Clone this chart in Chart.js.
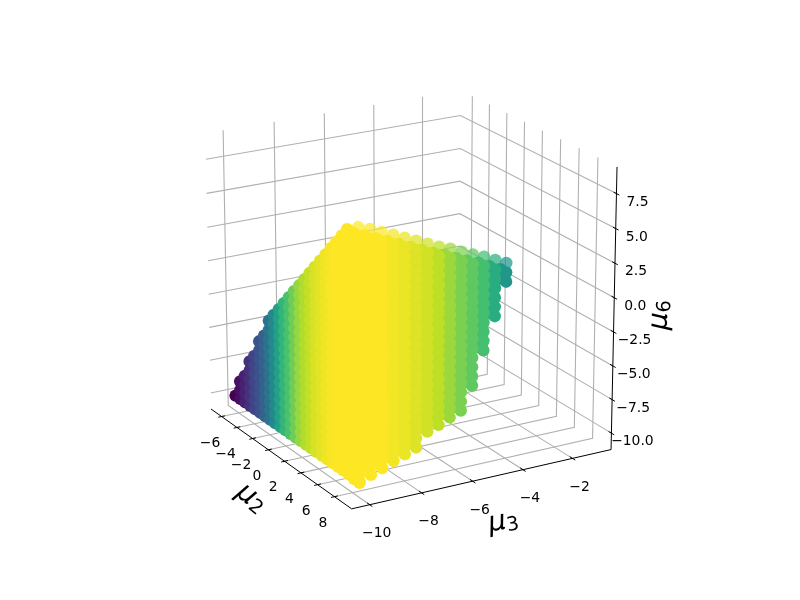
<!DOCTYPE html>
<html>
<head>
<meta charset="utf-8">
<style>
  html, body { margin: 0; background: #fff; }
  canvas { display: block; }
</style>
<script src="https://cdn.jsdelivr.net/npm/chart.js@4/dist/chart.umd.min.js"></script>
</head>
<body>
<canvas id="chart" width="800" height="600"></canvas>
<script>
// axis limits and ticks
const mu2Lim = [-7.4, 10];
const mu3Lim = [-10.69, -0.42];
const mu6Lim = [-11.23, 9.4];
const mu2Ticks = [-6, -4, -2, 0, 2, 4, 6, 8];
const mu3Ticks = [-10, -8, -6, -4, -2];
const mu6Ticks = [-10, -7.5, -5, -2.5, 0, 2.5, 5, 7.5];
const mu2TickLabels = ["−6", "−4", "−2", "0", "2", "4", "6", "8"];
const mu3TickLabels = ["−10", "−8", "−6", "−4", "−2"];
const mu6TickLabels = ["−10.0", "−7.5", "−5.0", "−2.5", "0.0", "2.5", "5.0", "7.5"];

// columns on the face that runs along mu2 (at the lowest mu3), counted up from the floor row
const mu2Cols = [-5.8, -5.17, -4.53, -3.9, -3.27, -2.63, -2.0, -1.37, -0.74, -0.1, 0.53, 1.16, 1.79, 2.43, 3.06, 3.69, 4.32, 4.96, 5.59, 6.22, 6.85, 7.49, 8.12, 8.75, 9.38];
const mu2ColRows = [1, 3, 4, 6, 7, 9, 10, 12, 13, 14, 15, 16, 17, 18, 19, 20, 21, 22, 23, 24, 25, 26, 27, 27, 27];
const mu2ColValue = [0, 0.04, 0.09, 0.14, 0.2, 0.25, 0.31, 0.38, 0.47, 0.57, 0.65, 0.71, 0.78, 0.84, 0.88, 0.91, 0.94, 0.96, 0.98, 0.99, 1, 1, 1, 1, 1];
const mu6Floor = -9.75;

// columns on the face that runs along mu3 (at the highest mu2), counted down from the top row
const mu3Cols = [-10.18, -9.745, -9.31, -8.875, -8.44, -8.005, -7.57, -7.135, -6.7, -6.265, -5.83, -5.395, -4.96, -4.525];
const mu3ColTop = [8.26, 7.98, 7.62, 7.28, 6.92, 6.56, 6.2, 5.84, 5.54, 5.18, 4.82, 4.52, 4.13, 3.76];
const mu3ColRows = [28, 27, 26, 25, 24, 23, 21, 20, 19, 18, 15, 11, 7, 3];
const mu3ColValue = [1, 1, 1, 0.985, 0.97, 0.95, 0.93, 0.9, 0.85, 0.8, 0.75, 0.7, 0.62, 0.52];

const mu6Step = 0.67;

const viridis = ["#440154", "#482475", "#414487", "#355f8d", "#2a788e", "#21918c", "#22a884", "#44bf70", "#7ad151", "#bddf26", "#fde725"];

// camera, same model as a matplotlib 3d axes
const elev = 20 * Math.PI / 180;
const azim = -30 * Math.PI / 180;
const camDist = 12;
const viewScale = 297;
const viewX = 408.2;
const viewY = 291.4;

function project(mu2, mu3, mu6) {
  const a = (mu2 - mu2Lim[0]) / (mu2Lim[1] - mu2Lim[0]) - 0.5;
  const b = (mu3 - mu3Lim[0]) / (mu3Lim[1] - mu3Lim[0]) - 0.5;
  const c = (mu6 - mu6Lim[0]) / (mu6Lim[1] - mu6Lim[0]) - 0.5;
  const se = Math.sin(elev), ce = Math.cos(elev), sa = Math.sin(azim), ca = Math.cos(azim);
  const u = -sa * a + ca * b;
  const v = -se * ca * a - se * sa * b + ce * c;
  const w = ce * ca * a + ce * sa * b + se * c;
  const d = 1 - w / camDist;
  return { x: viewX + viewScale * u / d, y: viewY - viewScale * v / d, depth: w };
}

function hexToRgb(hex) {
  return [1, 3, 5].map(i => parseInt(hex.slice(i, i + 2), 16));
}

function viridisColor(value, alpha) {
  const t = value * (viridis.length - 1);
  const i = Math.min(Math.floor(t), viridis.length - 2);
  const c0 = hexToRgb(viridis[i]), c1 = hexToRgb(viridis[i + 1]);
  const f = t - i;
  const rgb = c0.map((c, k) => Math.round(c + (c1[k] - c) * f));
  return `rgba(${rgb[0]}, ${rgb[1]}, ${rgb[2]}, ${alpha})`;
}

// the scatter: the two visible faces
let marks = [];
let rim = [];

mu2Cols.forEach((mu2, j) => {
  for (let k = 0; k < mu2ColRows[j]; k++) {
    const p = project(mu2, mu3Cols[0], mu6Floor + k * mu6Step);
    p.color = viridisColor(mu2ColValue[j], 1);
    marks.push(p);
  }
});

const lastMu2 = mu2Cols.length - 1;
mu3Cols.forEach((mu3, i) => {
  // front layer plus the layer right behind it, which closes the gaps
  [lastMu2, lastMu2 - 1].forEach((m, layer) => {
    for (let k = layer === 0 ? 0 : 1; k < mu3ColRows[i]; k++) {
      const p = project(mu2Cols[m], mu3, mu3ColTop[i] - k * mu6Step);
      if (k === 0) {
        p.color = viridisColor(mu3ColValue[i], 0.72);
        rim.push(p);
      } else {
        p.color = viridisColor(mu3ColValue[i], 1);
        marks.push(p);
      }
    }
  });
});

marks.sort((p, q) => p.depth - q.depth);

function lineDataset(points, color, width, order) {
  return {
    type: "scatter",
    showLine: true,
    data: points.map(p => ({ x: p.x, y: p.y })),
    borderColor: color,
    borderWidth: width,
    pointRadius: 0,
    order: order
  };
}

function markDataset(points, order) {
  return {
    type: "scatter",
    data: points.map(p => ({ x: p.x, y: p.y })),
    pointBackgroundColor: points.map(p => p.color),
    pointBorderWidth: 0,
    pointRadius: 6.2,
    order: order
  };
}

let datasets = [markDataset(marks, 0), markDataset(rim, 1)];

// grid lines run along the far walls
const gridColor = "#b0b0b0";
mu2Ticks.forEach(t => {
  datasets.push(lineDataset([project(t, mu3Lim[0], mu6Lim[0]), project(t, mu3Lim[1], mu6Lim[0]), project(t, mu3Lim[1], mu6Lim[1])], gridColor, 1.1, 3));
});
mu3Ticks.forEach(t => {
  datasets.push(lineDataset([project(mu2Lim[1], t, mu6Lim[0]), project(mu2Lim[0], t, mu6Lim[0]), project(mu2Lim[0], t, mu6Lim[1])], gridColor, 1.1, 3));
});
mu6Ticks.forEach(t => {
  datasets.push(lineDataset([project(mu2Lim[0], mu3Lim[0], t), project(mu2Lim[0], mu3Lim[1], t), project(mu2Lim[1], mu3Lim[1], t)], gridColor, 1.1, 3));
});

// axis lines and tick marks
const axisColor = "#000";
datasets.push(lineDataset([project(mu2Lim[0], mu3Lim[0], mu6Lim[0]), project(mu2Lim[1], mu3Lim[0], mu6Lim[0])], axisColor, 1, 2));
datasets.push(lineDataset([project(mu2Lim[1], mu3Lim[0], mu6Lim[0]), project(mu2Lim[1], mu3Lim[1], mu6Lim[0])], axisColor, 1, 2));
datasets.push(lineDataset([project(mu2Lim[1], mu3Lim[1], mu6Lim[0]), project(mu2Lim[1], mu3Lim[1], mu6Lim[1])], axisColor, 1, 2));
mu2Ticks.forEach(t => {
  datasets.push(lineDataset([project(t, mu3Lim[0] - 0.13, mu6Lim[0]), project(t, mu3Lim[0] + 0.13, mu6Lim[0])], axisColor, 1, 2));
});
mu3Ticks.forEach(t => {
  datasets.push(lineDataset([project(mu2Lim[1] - 0.3, t, mu6Lim[0]), project(mu2Lim[1] + 0.3, t, mu6Lim[0])], axisColor, 1, 2));
});
mu6Ticks.forEach(t => {
  datasets.push(lineDataset([project(mu2Lim[1] - 0.3, mu3Lim[1], t), project(mu2Lim[1] + 0.3, mu3Lim[1], t)], axisColor, 1, 2));
});

// tick labels and axis titles
const axisText = {
  id: "axisText",
  afterDraw(chart) {
    const ctx = chart.ctx;
    const sx = chart.scales.x, sy = chart.scales.y;
    ctx.save();
    ctx.fillStyle = "#000";
    ctx.textAlign = "center";
    ctx.textBaseline = "middle";
    ctx.font = '13.9px "DejaVu Sans"';

    const put = (label, p, dx, dy) => {
      ctx.fillText(label, sx.getPixelForValue(p.x) + dx, sy.getPixelForValue(p.y) + dy);
    };
    mu2Ticks.forEach((t, i) => put(mu2TickLabels[i], project(t, mu3Lim[0], mu6Lim[0]), -11.5, 26.5));
    mu3Ticks.forEach((t, i) => put(mu3TickLabels[i], project(mu2Lim[1], t, mu6Lim[0]), 7, 29));
    mu6Ticks.forEach((t, i) => put(mu6TickLabels[i], project(mu2Lim[1], mu3Lim[1], t), 21, 8.5));

    const title = (sub, x, y, angle) => {
      ctx.save();
      ctx.translate(sx.getPixelForValue(x), sy.getPixelForValue(y));
      ctx.rotate(angle * Math.PI / 180);
      ctx.textAlign = "left";
      ctx.textBaseline = "alphabetic";
      ctx.font = 'italic 27.8px "DejaVu Sans"';
      const w = ctx.measureText("μ").width;
      ctx.fillText("μ", -w * 0.85, 9);
      ctx.font = '19.5px "DejaVu Sans"';
      ctx.fillText(sub, w * 0.15, 12);
      ctx.restore();
    };
    title("2", 252.5, 497, 38);
    title("3", 503, 520, -10);
    title("6", 658, 315, -88);
    ctx.restore();
  }
};

new Chart(document.getElementById("chart"), {
  data: { datasets: datasets },
  options: {
    responsive: false,
    animation: false,
    layout: { autoPadding: false, padding: 0 },
    plugins: { legend: { display: false }, tooltip: { enabled: false } },
    scales: {
      x: { type: "linear", min: 0, max: 800, display: false },
      y: { type: "linear", min: 0, max: 600, reverse: true, display: false }
    }
  },
  plugins: [axisText]
});
</script>
</body>
</html>
